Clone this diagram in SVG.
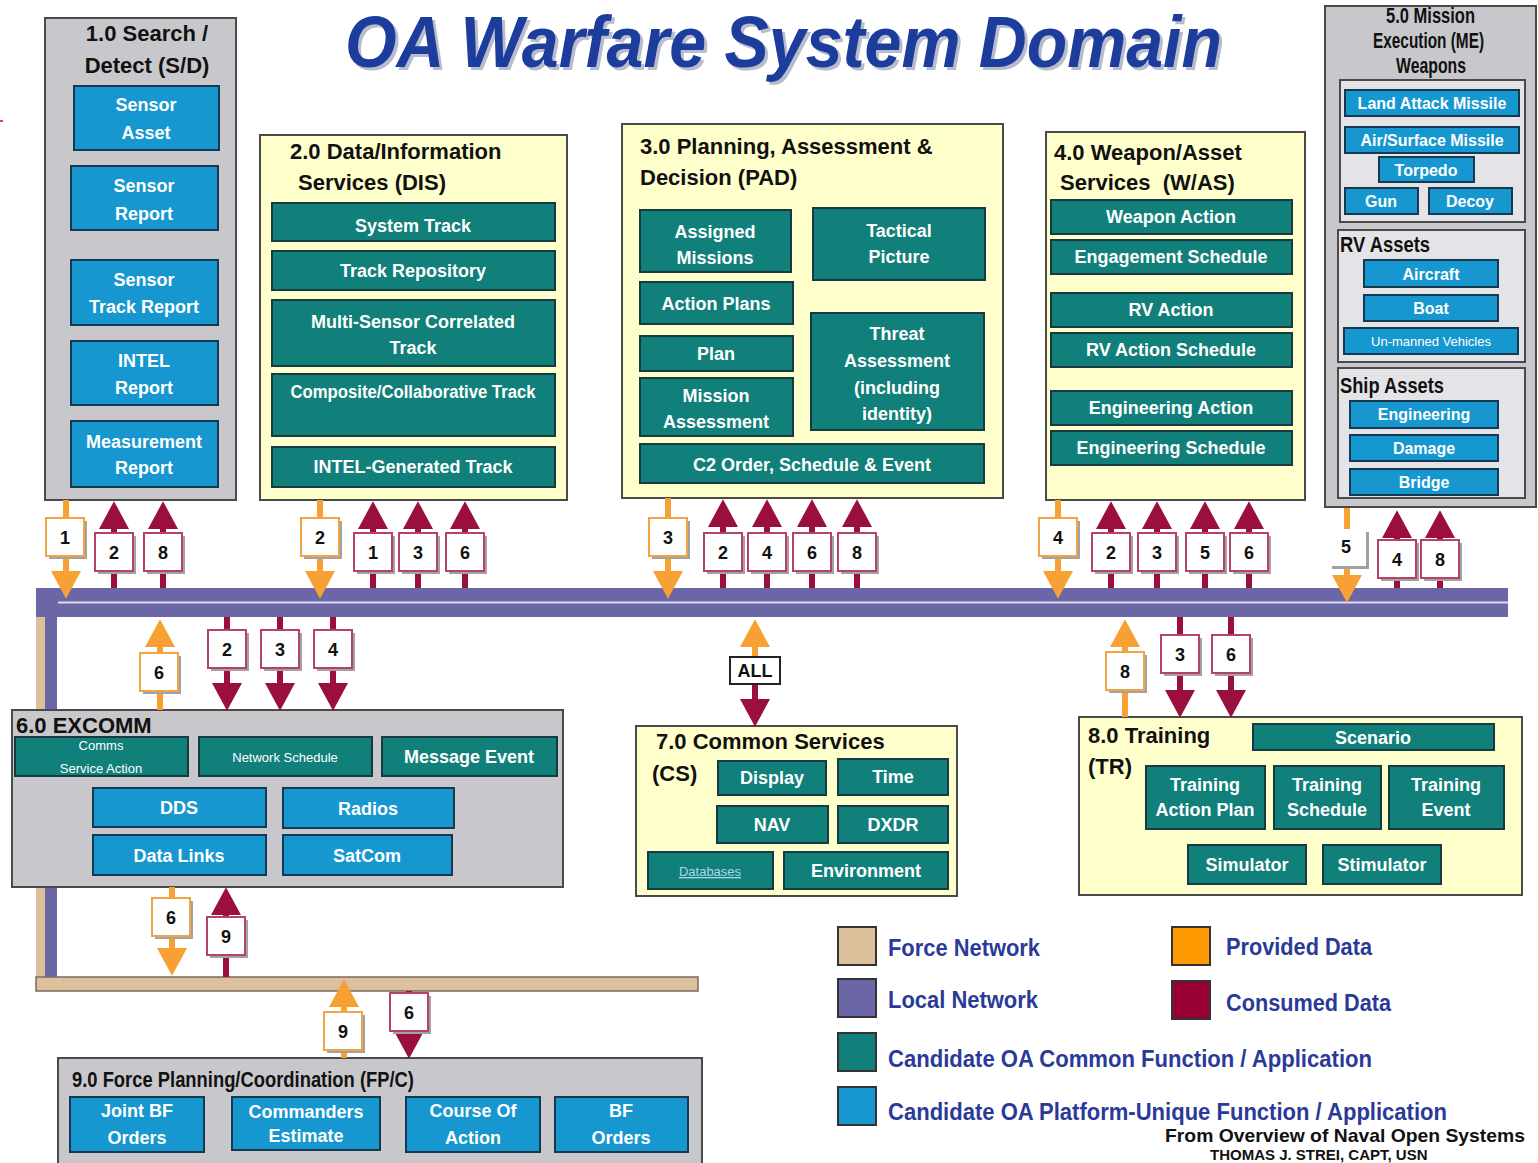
<svg xmlns="http://www.w3.org/2000/svg" width="1538" height="1163" viewBox="0 0 1538 1163">
<style>
text{font-family:"Liberation Sans",Arial,sans-serif;font-weight:bold}
.gray{fill:#c8c8cc;stroke:#4a4a4a;stroke-width:2}
.yel{fill:#ffffcc;stroke:#4a4a4a;stroke-width:2}
.sub{fill:#e4e4e8;stroke:#4a4a4a;stroke-width:2}
.teal{fill:#11807a;stroke:#163a40;stroke-width:2}
.blue{fill:#1697cf;stroke:#17394f;stroke-width:2}
.t{fill:#fff;font-size:18px;text-anchor:middle}
.t16{fill:#fff;font-size:16px;text-anchor:middle}
.sm{fill:#fff;font-size:13px;font-weight:normal;text-anchor:middle}
.h{fill:#111;font-size:22px}
.lg{fill:#2b3a99;font-size:23px}
.sh{fill:#a2a2a2}
.lp{fill:#fff;stroke:#f2a444;stroke-width:2}
.lc{fill:#fff;stroke:#b5426e;stroke-width:2}
.n{fill:#111;font-size:18px;text-anchor:middle}
.po{stroke:#f7a135;stroke-width:6;fill:none;marker-end:url(#aO)}
.cm{stroke:#9b0f3c;stroke-width:6;fill:none;marker-end:url(#aM)}
</style>
<defs>
<marker id="aO" markerUnits="userSpaceOnUse" markerWidth="28" markerHeight="30" refX="14" refY="14" orient="auto" viewBox="0 0 26 28"><path d="M0,0 L26,14 L0,28 z" fill="#f7a135"/></marker>
<marker id="aM" markerUnits="userSpaceOnUse" markerWidth="28" markerHeight="30" refX="14" refY="14" orient="auto" viewBox="0 0 26 28"><path d="M0,0 L26,14 L0,28 z" fill="#9b0f3c"/></marker>
</defs>
<rect width="1538" height="1163" fill="#fff"/>
<path d="M0,121 h3" stroke="#e00" stroke-width="1.5"/>

<!-- title -->
<text x="348" y="70" font-size="72" font-style="italic" fill="#b8bccc" textLength="877" lengthAdjust="spacingAndGlyphs">OA Warfare System Domain</text>
<text x="345" y="67" font-size="72" font-style="italic" fill="#1d3d9c" textLength="877" lengthAdjust="spacingAndGlyphs">OA Warfare System Domain</text>

<!-- networks -->
<g id="networks">
<rect x="36" y="600" width="9" height="390" fill="#dcc09c"/>
<rect x="36" y="977" width="662" height="14" fill="#dcc09c" stroke="#7a6a60" stroke-width="1.5"/>
<rect x="45" y="600" width="12" height="377" fill="#6b66a6"/>
<rect x="36" y="588" width="1472" height="29" fill="#6b66a6"/>
<path d="M58,602.5 H1508" stroke="#dcdcf2" stroke-width="2"/>
</g>

<!-- 1.0 -->
<g id="n1">
<rect class="gray" x="45" y="18" width="191" height="482"/>
<text class="h" x="147" y="41" text-anchor="middle">1.0 Search /</text>
<text class="h" x="147" y="73" text-anchor="middle">Detect (S/D)</text>
<rect class="blue" x="74" y="86" width="145" height="64"/>
<text class="t" x="146" y="111">Sensor</text><text class="t" x="146" y="139">Asset</text>
<rect class="blue" x="71" y="166" width="147" height="64"/>
<text class="t" x="144" y="192">Sensor</text><text class="t" x="144" y="220">Report</text>
<rect class="blue" x="71" y="260" width="147" height="65"/>
<text class="t" x="144" y="286">Sensor</text><text class="t" x="144" y="313">Track Report</text>
<rect class="blue" x="71" y="341" width="147" height="64"/>
<text class="t" x="144" y="367">INTEL</text><text class="t" x="144" y="394">Report</text>
<rect class="blue" x="71" y="421" width="147" height="66"/>
<text class="t" x="144" y="448">Measurement</text><text class="t" x="144" y="474">Report</text>
</g>

<!-- 2.0 -->
<g id="n2">
<rect class="yel" x="260" y="135" width="307" height="365"/>
<text class="h" x="290" y="159">2.0 Data/Information</text>
<text class="h" x="298" y="190">Services (DIS)</text>
<rect class="teal" x="272" y="203" width="283" height="38"/><text class="t" x="413" y="232">System Track</text>
<rect class="teal" x="272" y="251" width="283" height="39"/><text class="t" x="413" y="277">Track Repository</text>
<rect class="teal" x="272" y="300" width="283" height="66"/><text class="t" x="413" y="328">Multi-Sensor Correlated</text><text class="t" x="413" y="354">Track</text>
<rect class="teal" x="272" y="374" width="283" height="62"/><text class="t" x="413" y="398" textLength="245" lengthAdjust="spacingAndGlyphs">Composite/Collaborative Track</text>
<rect class="teal" x="272" y="447" width="283" height="40"/><text class="t" x="413" y="473">INTEL-Generated Track</text>
</g>

<!-- 3.0 -->
<g id="n3">
<rect class="yel" x="622" y="124" width="381" height="374"/>
<text class="h" x="640" y="154">3.0 Planning, Assessment &amp;</text>
<text class="h" x="640" y="185">Decision (PAD)</text>
<rect class="teal" x="640" y="210" width="151" height="62"/><text class="t" x="715" y="238">Assigned</text><text class="t" x="715" y="264">Missions</text>
<rect class="teal" x="813" y="208" width="172" height="72"/><text class="t" x="899" y="237">Tactical</text><text class="t" x="899" y="263">Picture</text>
<rect class="teal" x="640" y="282" width="153" height="42"/><text class="t" x="716" y="310">Action Plans</text>
<rect class="teal" x="640" y="336" width="153" height="35"/><text class="t" x="716" y="360">Plan</text>
<rect class="teal" x="811" y="313" width="173" height="117"/>
<text class="t" x="897" y="340">Threat</text><text class="t" x="897" y="367">Assessment</text><text class="t" x="897" y="394">(including</text><text class="t" x="897" y="420">identity)</text>
<rect class="teal" x="640" y="378" width="153" height="58"/><text class="t" x="716" y="402">Mission</text><text class="t" x="716" y="428">Assessment</text>
<rect class="teal" x="640" y="444" width="344" height="39"/><text class="t" x="812" y="471">C2 Order, Schedule &amp; Event</text>
</g>

<!-- 4.0 -->
<g id="n4">
<rect class="yel" x="1046" y="132" width="259" height="368"/>
<text class="h" x="1054" y="160">4.0 Weapon/Asset</text>
<text class="h" x="1060" y="190" xml:space="preserve">Services  (W/AS)</text>
<rect class="teal" x="1051" y="200" width="241" height="34"/><text class="t" x="1171" y="223" font-size="17">Weapon Action</text>
<rect class="teal" x="1051" y="240" width="241" height="34"/><text class="t" x="1171" y="263" font-size="17">Engagement Schedule</text>
<rect class="teal" x="1051" y="293" width="241" height="34"/><text class="t" x="1171" y="316" font-size="17">RV Action</text>
<rect class="teal" x="1051" y="333" width="241" height="34"/><text class="t" x="1171" y="356" font-size="17">RV Action Schedule</text>
<rect class="teal" x="1051" y="391" width="241" height="34"/><text class="t" x="1171" y="414" font-size="17">Engineering Action</text>
<rect class="teal" x="1051" y="431" width="241" height="34"/><text class="t" x="1171" y="454" font-size="17">Engineering Schedule</text>
</g>

<!-- 5.0 -->
<g id="n5">
<rect class="gray" x="1325" y="6" width="211" height="501"/>
<text class="h" x="1386" y="23" font-size="16" textLength="89" lengthAdjust="spacingAndGlyphs">5.0 Mission</text>
<text class="h" x="1373" y="48" font-size="16" textLength="111" lengthAdjust="spacingAndGlyphs">Execution (ME)</text>
<text class="h" x="1396" y="73" font-size="16" textLength="70" lengthAdjust="spacingAndGlyphs">Weapons</text>
<rect class="sub" x="1340" y="80" width="185" height="142"/>
<rect class="blue" x="1345" y="90" width="174" height="26"/><text class="t16" x="1432" y="109">Land Attack Missile</text>
<rect class="blue" x="1345" y="127" width="174" height="26"/><text class="t16" x="1432" y="146">Air/Surface Missile</text>
<rect class="blue" x="1379" y="157" width="95" height="25"/><text class="t16" x="1426" y="176">Torpedo</text>
<rect class="blue" x="1345" y="188" width="73" height="26"/><text class="t16" x="1381" y="207">Gun</text>
<rect class="blue" x="1429" y="188" width="83" height="26"/><text class="t16" x="1470" y="207">Decoy</text>
<rect class="sub" x="1338" y="230" width="187" height="132"/>
<text class="h" x="1340" y="252" font-size="18" textLength="90" lengthAdjust="spacingAndGlyphs">RV Assets</text>
<rect class="blue" x="1364" y="260" width="134" height="27"/><text class="t16" x="1431" y="280">Aircraft</text>
<rect class="blue" x="1364" y="295" width="134" height="26"/><text class="t16" x="1431" y="314">Boat</text>
<rect class="blue" x="1344" y="328" width="174" height="26"/><text class="sm" x="1431" y="346" font-size="12">Un-manned Vehicles</text>
<rect class="sub" x="1338" y="368" width="187" height="130"/>
<text class="h" x="1340" y="393" font-size="18" textLength="104" lengthAdjust="spacingAndGlyphs">Ship Assets</text>
<rect class="blue" x="1350" y="401" width="148" height="27"/><text class="t16" x="1424" y="420">Engineering</text>
<rect class="blue" x="1350" y="435" width="148" height="26"/><text class="t16" x="1424" y="454">Damage</text>
<rect class="blue" x="1350" y="469" width="148" height="26"/><text class="t16" x="1424" y="488">Bridge</text>
</g>

<!-- 6.0 -->
<g id="n6">
<rect class="gray" x="12" y="710" width="551" height="177"/>
<rect class="teal" x="15" y="737" width="173" height="39"/><text class="sm" x="101" y="750">Comms</text><text class="sm" x="101" y="773">Service Action</text>
<rect class="teal" x="199" y="737" width="173" height="39"/><text class="sm" x="285" y="762">Network Schedule</text>
<rect class="teal" x="382" y="737" width="175" height="39"/><text class="t" x="469" y="763" font-size="17">Message Event</text>
<rect class="blue" x="93" y="788" width="173" height="39"/><text class="t" x="179" y="814">DDS</text>
<rect class="blue" x="283" y="788" width="171" height="40"/><text class="t" x="368" y="815">Radios</text>
<rect class="blue" x="93" y="835" width="173" height="40"/><text class="t" x="179" y="862">Data Links</text>
<rect class="blue" x="283" y="835" width="169" height="40"/><text class="t" x="367" y="862">SatCom</text>
<text class="h" x="16" y="733">6.0 EXCOMM</text>
</g>

<!-- 7.0 -->
<g id="n7">
<rect class="yel" x="636" y="726" width="321" height="170"/>
<text class="h" x="656" y="749" font-size="21">7.0 Common Services</text>
<text class="h" x="652" y="781" font-size="21">(CS)</text>
<rect class="teal" x="718" y="761" width="108" height="34"/><text class="t" x="772" y="784">Display</text>
<rect class="teal" x="838" y="759" width="110" height="36"/><text class="t" x="893" y="783">Time</text>
<rect class="teal" x="717" y="806" width="111" height="37"/><text class="t" x="772" y="831">NAV</text>
<rect class="teal" x="838" y="806" width="110" height="37"/><text class="t" x="893" y="831">DXDR</text>
<rect class="teal" x="648" y="852" width="125" height="37"/><text class="sm" x="710" y="876" font-size="12" style="fill:#a8d8e8" text-decoration="underline">Databases</text>
<rect class="teal" x="784" y="852" width="164" height="37"/><text class="t" x="866" y="877">Environment</text>
</g>

<!-- 8.0 -->
<g id="n8">
<rect class="yel" x="1079" y="717" width="443" height="178"/>
<text class="h" x="1088" y="743">8.0 Training</text>
<text class="h" x="1088" y="774">(TR)</text>
<rect class="teal" x="1253" y="724" width="241" height="26"/><text class="t" x="1373" y="744">Scenario</text>
<rect class="teal" x="1146" y="766" width="119" height="63"/><text class="t" x="1205" y="791">Training</text><text class="t" x="1205" y="816">Action Plan</text>
<rect class="teal" x="1274" y="766" width="107" height="63"/><text class="t" x="1327" y="791">Training</text><text class="t" x="1327" y="816">Schedule</text>
<rect class="teal" x="1389" y="766" width="115" height="63"/><text class="t" x="1446" y="791">Training</text><text class="t" x="1446" y="816">Event</text>
<rect class="teal" x="1188" y="845" width="118" height="39"/><text class="t" x="1247" y="871">Simulator</text>
<rect class="teal" x="1323" y="845" width="118" height="39"/><text class="t" x="1382" y="871">Stimulator</text>
</g>

<!-- 9.0 -->
<g id="n9">
<rect class="gray" x="58" y="1058" width="644" height="112"/>
<text class="h" x="72" y="1087" font-size="19" textLength="342" lengthAdjust="spacingAndGlyphs">9.0 Force Planning/Coordination (FP/C)</text>
<rect class="blue" x="70" y="1097" width="134" height="55"/><text class="t" x="137" y="1117">Joint BF</text><text class="t" x="137" y="1144">Orders</text>
<rect class="blue" x="232" y="1097" width="148" height="53"/><text class="t" x="306" y="1118">Commanders</text><text class="t" x="306" y="1142">Estimate</text>
<rect class="blue" x="406" y="1097" width="134" height="55"/><text class="t" x="473" y="1117">Course Of</text><text class="t" x="473" y="1144">Action</text>
<rect class="blue" x="555" y="1097" width="133" height="55"/><text class="t" x="621" y="1117">BF</text><text class="t" x="621" y="1144">Orders</text>
</g>

<!-- connectors -->
<g id="connectors">
<path class="po" d="M66,500 V586"/>
<path class="po" d="M320,500 V586"/>
<path class="po" d="M668,498 V586"/>
<path class="po" d="M1058,500 V586"/>
<path class="po" d="M1347,508 V590"/>
<path class="po" d="M172,887 V963"/>
<path class="po" d="M160,710 V632"/>
<path class="po" d="M755,657 V632"/>
<path class="po" d="M1125,717 V632"/>
<path class="po" d="M344,1058 V992"/>
<path class="cm" d="M114,588 V514"/>
<path class="cm" d="M163,588 V514"/>
<path class="cm" d="M373,588 V514"/>
<path class="cm" d="M418,588 V514"/>
<path class="cm" d="M465,588 V514"/>
<path class="cm" d="M723,588 V512"/>
<path class="cm" d="M767,588 V512"/>
<path class="cm" d="M812,588 V512"/>
<path class="cm" d="M857,588 V512"/>
<path class="cm" d="M1111,588 V514"/>
<path class="cm" d="M1157,588 V514"/>
<path class="cm" d="M1205,588 V514"/>
<path class="cm" d="M1249,588 V514"/>
<path class="cm" d="M1397,588 V523"/>
<path class="cm" d="M1440,588 V523"/>
<path class="cm" d="M226,977 V900"/>
<path class="cm" d="M227,617 V698"/>
<path class="cm" d="M280,617 V698"/>
<path class="cm" d="M333,617 V698"/>
<path class="cm" d="M755,683 V714"/>
<path class="cm" d="M1180,617 V705"/>
<path class="cm" d="M1231,617 V705"/>
<path class="cm" d="M409,991 V1046"/>

<rect class="sh" x="49" y="521" width="38" height="38"/><rect class="lp" x="46" y="518" width="38" height="38"/><text class="n" x="65" y="544">1</text>
<rect class="sh" x="304" y="521" width="38" height="38"/><rect class="lp" x="301" y="518" width="38" height="38"/><text class="n" x="320" y="544">2</text>
<rect class="sh" x="652" y="521" width="38" height="38"/><rect class="lp" x="649" y="518" width="38" height="38"/><text class="n" x="668" y="544">3</text>
<rect class="sh" x="1042" y="521" width="38" height="38"/><rect class="lp" x="1039" y="518" width="38" height="38"/><text class="n" x="1058" y="544">4</text>
<rect class="sh" x="1332" y="532" width="37" height="37"/><rect x="1329" y="529" width="37" height="37" fill="#fff"/><text class="n" x="1346" y="553">5</text>
<rect class="sh" x="155" y="901" width="38" height="38"/><rect class="lp" x="152" y="898" width="38" height="38"/><text class="n" x="171" y="924">6</text>
<rect class="sh" x="143" y="656" width="38" height="38"/><rect class="lp" x="140" y="653" width="38" height="38"/><text class="n" x="159" y="679">6</text>
<rect class="sh" x="1109" y="655" width="38" height="38"/><rect class="lp" x="1106" y="652" width="38" height="38"/><text class="n" x="1125" y="678">8</text>
<rect class="sh" x="327" y="1015" width="38" height="38"/><rect class="lp" x="324" y="1012" width="38" height="38"/><text class="n" x="343" y="1038">9</text>
<rect x="730" y="657" width="50" height="27" fill="#fff" stroke="#222" stroke-width="2"/><text class="n" x="755" y="677">ALL</text>

<rect class="sh" x="98" y="536" width="38" height="38"/><rect class="lc" x="95" y="533" width="38" height="38"/><text class="n" x="114" y="559">2</text>
<rect class="sh" x="147" y="536" width="38" height="38"/><rect class="lc" x="144" y="533" width="38" height="38"/><text class="n" x="163" y="559">8</text>
<rect class="sh" x="357" y="536" width="38" height="38"/><rect class="lc" x="354" y="533" width="38" height="38"/><text class="n" x="373" y="559">1</text>
<rect class="sh" x="402" y="536" width="38" height="38"/><rect class="lc" x="399" y="533" width="38" height="38"/><text class="n" x="418" y="559">3</text>
<rect class="sh" x="449" y="536" width="38" height="38"/><rect class="lc" x="446" y="533" width="38" height="38"/><text class="n" x="465" y="559">6</text>
<rect class="sh" x="707" y="536" width="38" height="38"/><rect class="lc" x="704" y="533" width="38" height="38"/><text class="n" x="723" y="559">2</text>
<rect class="sh" x="751" y="536" width="38" height="38"/><rect class="lc" x="748" y="533" width="38" height="38"/><text class="n" x="767" y="559">4</text>
<rect class="sh" x="796" y="536" width="38" height="38"/><rect class="lc" x="793" y="533" width="38" height="38"/><text class="n" x="812" y="559">6</text>
<rect class="sh" x="841" y="536" width="38" height="38"/><rect class="lc" x="838" y="533" width="38" height="38"/><text class="n" x="857" y="559">8</text>
<rect class="sh" x="1095" y="536" width="38" height="38"/><rect class="lc" x="1092" y="533" width="38" height="38"/><text class="n" x="1111" y="559">2</text>
<rect class="sh" x="1141" y="536" width="38" height="38"/><rect class="lc" x="1138" y="533" width="38" height="38"/><text class="n" x="1157" y="559">3</text>
<rect class="sh" x="1189" y="536" width="38" height="38"/><rect class="lc" x="1186" y="533" width="38" height="38"/><text class="n" x="1205" y="559">5</text>
<rect class="sh" x="1233" y="536" width="38" height="38"/><rect class="lc" x="1230" y="533" width="38" height="38"/><text class="n" x="1249" y="559">6</text>
<rect class="sh" x="1381" y="543" width="38" height="38"/><rect class="lc" x="1378" y="540" width="38" height="38"/><text class="n" x="1397" y="566">4</text>
<rect class="sh" x="1424" y="543" width="38" height="38"/><rect class="lc" x="1421" y="540" width="38" height="38"/><text class="n" x="1440" y="566">8</text>
<rect class="sh" x="210" y="920" width="38" height="38"/><rect class="lc" x="207" y="917" width="38" height="38"/><text class="n" x="226" y="943">9</text>
<rect class="sh" x="211" y="633" width="38" height="38"/><rect class="lc" x="208" y="630" width="38" height="38"/><text class="n" x="227" y="656">2</text>
<rect class="sh" x="264" y="633" width="38" height="38"/><rect class="lc" x="261" y="630" width="38" height="38"/><text class="n" x="280" y="656">3</text>
<rect class="sh" x="317" y="633" width="38" height="38"/><rect class="lc" x="314" y="630" width="38" height="38"/><text class="n" x="333" y="656">4</text>
<rect class="sh" x="1164" y="638" width="38" height="38"/><rect class="lc" x="1161" y="635" width="38" height="38"/><text class="n" x="1180" y="661">3</text>
<rect class="sh" x="1215" y="638" width="38" height="38"/><rect class="lc" x="1212" y="635" width="38" height="38"/><text class="n" x="1231" y="661">6</text>
<rect class="sh" x="393" y="996" width="38" height="38"/><rect class="lc" x="390" y="993" width="38" height="38"/><text class="n" x="409" y="1019">6</text>
</g>

<!-- legend -->
<g id="legend">
<rect x="838" y="927" width="38" height="38" fill="#dcc09c" stroke="#333" stroke-width="2"/>
<text class="lg" x="888" y="956" textLength="152" lengthAdjust="spacingAndGlyphs">Force Network</text>
<rect x="838" y="979" width="38" height="38" fill="#6b66a6" stroke="#333" stroke-width="2"/>
<text class="lg" x="888" y="1008" textLength="150" lengthAdjust="spacingAndGlyphs">Local Network</text>
<rect x="838" y="1033" width="38" height="38" fill="#11807a" stroke="#333" stroke-width="2"/>
<text class="lg" x="888" y="1067" textLength="484" lengthAdjust="spacingAndGlyphs">Candidate OA Common Function / Application</text>
<rect x="838" y="1087" width="38" height="38" fill="#1697cf" stroke="#333" stroke-width="2"/>
<text class="lg" x="888" y="1120" textLength="559" lengthAdjust="spacingAndGlyphs">Candidate OA Platform-Unique Function / Application</text>
<rect x="1172" y="927" width="38" height="38" fill="#ff9a00" stroke="#333" stroke-width="2"/>
<text class="lg" x="1226" y="955" textLength="146" lengthAdjust="spacingAndGlyphs">Provided Data</text>
<rect x="1172" y="981" width="38" height="38" fill="#990033" stroke="#333" stroke-width="2"/>
<text class="lg" x="1226" y="1011" textLength="165" lengthAdjust="spacingAndGlyphs">Consumed Data</text>
</g>

<text x="1165" y="1142" font-size="19" fill="#111" textLength="360" lengthAdjust="spacingAndGlyphs">From Overview of Naval Open Systems</text>
<text x="1210" y="1160" font-size="15" fill="#111">THOMAS J. STREI, CAPT, USN</text>
</svg>
